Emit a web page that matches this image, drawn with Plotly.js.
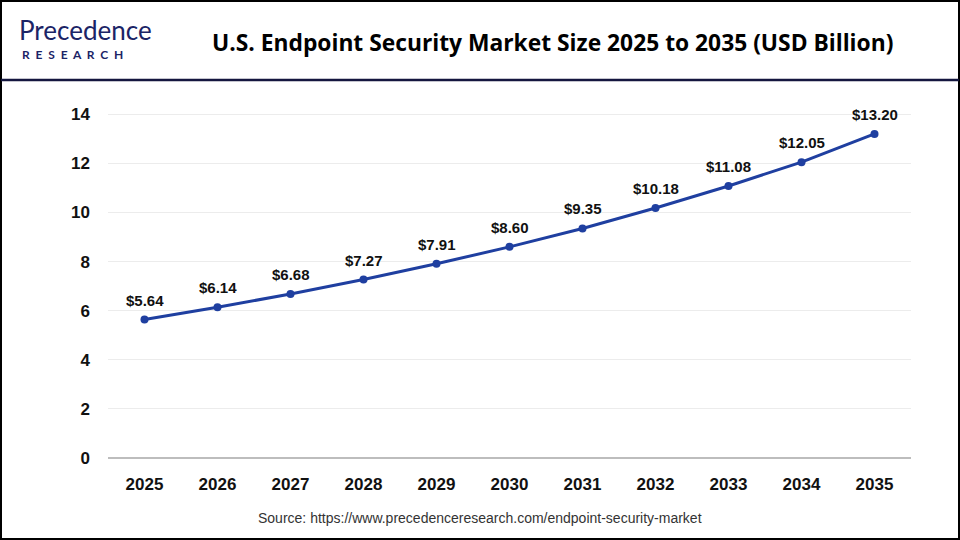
<!DOCTYPE html>
<html><head><meta charset="utf-8">
<script src="https://cdn.plot.ly/plotly-3.0.1.min.js"></script>
<style>html,body{margin:0;padding:0;background:#fff}#chart{width:960px;height:540px}</style>
</head><body><div id="chart"></div>
<script>
const years = ['2025','2026','2027','2028','2029','2030','2031','2032','2033','2034','2035'];
const values = [5.64, 6.14, 6.68, 7.27, 7.91, 8.60, 9.35, 10.18, 11.08, 12.05, 13.20];
const labels = values.map(v => '$' + v.toFixed(2));
const yTicks = [0, 2, 4, 6, 8, 10, 12, 14];

const W = 960, H = 540;
const m = {l: 108, r: 49, t: 102, b: 82};
const pw = W - m.l - m.r, ph = H - m.t - m.b;
const px = x => (x - m.l) / pw;
const py = y => (H - m.b - y) / ph;
const boldFont = (size) => ({family: 'Liberation Sans, Arial, sans-serif', size: size, color: '#111', weight: 'bold'});

const trace = {
  x: years, y: values,
  type: 'scatter', mode: 'lines+markers',
  line: {color: '#1f3fa0', width: 3},
  marker: {color: '#1f3fa0', size: 8},
  cliponaxis: false, hoverinfo: 'skip'
};

// category axis: annotation x uses the category's serial index
const valueLabels = years.map((yr, i) => ({
  x: i, y: values[i], xref: 'x', yref: 'y', text: labels[i], showarrow: false,
  yanchor: 'bottom', yshift: 9, font: boldFont(15)
}));

const layout = {
  width: W, height: H, margin: m,
  paper_bgcolor: '#fff', plot_bgcolor: '#fff',
  showlegend: false,
  xaxis: {type: 'category', range: [-0.5, 10.5], showgrid: false, zeroline: false, showline: false,
    ticks: '', ticklen: 0, ticklabelstandoff: 14, tickfont: boldFont(17)},
  yaxis: {range: [0, 14.5], tickvals: yTicks, showgrid: true, gridcolor: '#ececec', gridwidth: 1,
    zeroline: true, zerolinecolor: '#bdbdbd', zerolinewidth: 2, showline: false, ticks: '',
    ticklabelstandoff: 17, tickfont: boldFont(17)},
  shapes: [
    {type: 'rect', xref: 'paper', yref: 'paper', x0: px(1), x1: px(W - 1), y0: py(H - 1), y1: py(1),
     line: {color: '#000', width: 2}, fillcolor: 'rgba(0,0,0,0)'},
    {type: 'line', xref: 'paper', yref: 'paper', x0: px(1), x1: px(W - 1), y0: py(80), y1: py(80),
     line: {color: '#14163f', width: 2.5}}
  ],
  annotations: valueLabels.concat([
    {text: 'U.S. Endpoint Security Market Size 2025 to 2035 (USD Billion)', xref: 'paper', yref: 'paper',
     x: px(552), y: py(42), xanchor: 'center', yanchor: 'middle', showarrow: false,
     font: {family: 'Open Sans, sans-serif', size: 22.8, color: '#000', weight: 'bold'}},
    {text: 'Precedence', xref: 'paper', yref: 'paper', x: px(17), y: py(30), xanchor: 'left', yanchor: 'middle',
     showarrow: false, font: {family: 'Lato, sans-serif', size: 26, color: '#1b2466'}},
    {text: 'R\u00a0\u00a0E\u00a0\u00a0S\u00a0\u00a0E\u00a0\u00a0A\u00a0\u00a0R\u00a0\u00a0C\u00a0\u00a0H', xref: 'paper', yref: 'paper',
     x: px(20), y: py(55), xanchor: 'left', yanchor: 'middle',
     showarrow: false, font: {family: 'Lato, sans-serif', size: 12, color: '#1b2466', weight: 'bold'}},
    {text: 'Source: https://www.precedenceresearch.com/endpoint-security-market', xref: 'paper', yref: 'paper',
     x: px(480), y: py(518), xanchor: 'center', yanchor: 'middle', showarrow: false,
     font: {family: 'Liberation Sans Narrow, Arial Narrow, sans-serif', size: 14, color: '#333'}}
  ])
};

Plotly.newPlot('chart', [trace], layout, {displayModeBar: false, staticPlot: true});
</script></body></html>
